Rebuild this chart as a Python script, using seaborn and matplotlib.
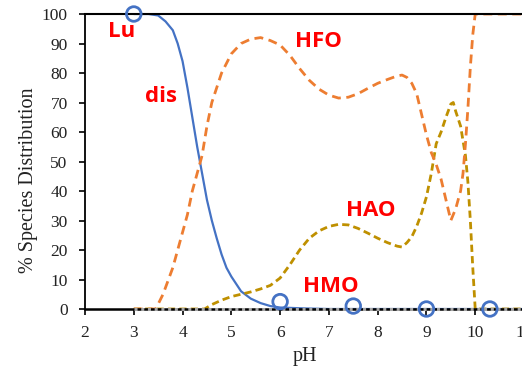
import matplotlib
matplotlib.use("Agg")
import matplotlib.pyplot as plt
import seaborn as sns
import pandas as pd

# Lu dissolved (solid blue)
dis_ph = [3.0, 3.3, 3.5, 3.65, 3.8, 3.9, 4.0, 4.1, 4.2, 4.3, 4.4, 4.5, 4.6, 4.7, 4.8,
          4.9, 5.0, 5.2, 5.4, 5.6, 5.8, 6.0, 6.5, 7.0, 11.0]
dis_val = [100, 100, 99.5, 97.5, 94.5, 90, 84, 75, 65, 55, 46, 37, 30, 24, 18.5,
           14, 11, 6, 3.5, 2, 1, 0.5, 0.2, 0, 0]

# Lu sorbed on HFO (orange dashed)
hfo_ph = [3.0, 3.45, 3.6, 3.8, 4.0, 4.1, 4.2, 4.3, 4.4, 4.5, 4.6, 4.8, 5.0, 5.2, 5.4,
          5.6, 5.8, 6.0, 6.2, 6.4, 6.6, 6.8, 7.0, 7.2, 7.4, 7.6, 7.8, 8.0, 8.2, 8.4,
          8.5, 8.6, 8.7, 8.8, 8.9, 9.0, 9.1, 9.2, 9.3, 9.4, 9.5, 9.6, 9.7, 9.75, 9.8,
          9.85, 9.9, 9.95, 10.0, 11.0]
hfo_val = [0, 0, 5, 14, 26, 32, 40, 46, 52, 62, 70, 80, 86.5, 90, 91.5,
           92, 91, 89.5, 86, 81.5, 77.5, 74.5, 72.5, 71.5, 71.8, 73, 74.8, 76.5, 77.8, 79,
           79.3, 78.5, 76.5, 73, 66, 59, 53, 49, 44, 37, 30, 34, 40, 46, 56,
           68, 82, 93, 100, 100]

# Lu sorbed on HAO (gold dashed)
hao_ph = [3.0, 4.45, 4.6, 4.8, 5.0, 5.2, 5.4, 5.6, 5.8, 6.0, 6.2, 6.4, 6.6, 6.8, 7.0,
          7.2, 7.4, 7.6, 7.8, 8.0, 8.2, 8.4, 8.5, 8.6, 8.7, 8.8, 8.9, 9.0, 9.1, 9.2,
          9.3, 9.4, 9.5, 9.55, 9.6, 9.7, 9.8, 9.85, 9.9, 9.95, 10.0, 11.0]
hao_val = [0, 0, 1.5, 3, 4.2, 5, 5.8, 6.8, 8, 10.5, 15, 20, 24, 26.5, 28,
           28.7, 28.5, 27.3, 25.7, 24, 22.5, 21.3, 21, 22.5, 24.5, 28, 32.5, 38, 46, 56,
           60, 65, 69.5, 70, 67, 62, 52, 43, 30, 14, 0, 0]

# Lu sorbed on HMO (gray dotted)
hmo_ph = [3.0, 11.0]
hmo_val = [0, 0]

# Measured dissolved Lu (open circles)
obs_ph = [3.0, 6.0, 7.5, 9.0, 10.3]
obs_val = [100, 2.5, 1, 0, 0]

xticks = [2, 3, 4, 5, 6, 7, 8, 9, 10, 11]
yticks = [0, 10, 20, 30, 40, 50, 60, 70, 80, 90, 100]

sns.set_theme(style="ticks")
plt.rcParams["font.family"] = ["Liberation Serif", "DejaVu Serif"]

fig = plt.figure(figsize=(5.22, 3.72), dpi=100)
ax = fig.add_axes([85 / 522, 63 / 372, 439 / 522, 295 / 372])

df_hmo = pd.DataFrame({"pH": hmo_ph, "v": hmo_val})
df_dis = pd.DataFrame({"pH": dis_ph, "v": dis_val})
df_hfo = pd.DataFrame({"pH": hfo_ph, "v": hfo_val})
df_hao = pd.DataFrame({"pH": hao_ph, "v": hao_val})
df_obs = pd.DataFrame({"pH": obs_ph, "v": obs_val})

sns.lineplot(data=df_dis, x="pH", y="v", ax=ax, color="#4472C4", linewidth=1.6,
             estimator=None, sort=False)
sns.lineplot(data=df_hao, x="pH", y="v", ax=ax, color="#BF9000", linewidth=2.0,
             estimator=None, sort=False)
ax.lines[-1].set_dashes((2.6, 1.5))
sns.lineplot(data=df_hfo, x="pH", y="v", ax=ax, color="#ED7D31", linewidth=2.0,
             estimator=None, sort=False)
ax.lines[-1].set_dashes((3.2, 2.0))
sns.lineplot(data=df_hmo, x="pH", y="v", ax=ax, color="#A5A5A5", linewidth=2.2,
             estimator=None, sort=False)
ax.lines[-1].set_dashes((1, 1.2))
ax.lines[-1].set_clip_on(False)
ax.lines[-1].set_zorder(5)

sns.scatterplot(data=df_obs, x="pH", y="v", ax=ax, s=110, facecolor="none",
                edgecolor="#4472C4", linewidth=2.0, zorder=6, clip_on=False)

ax.set_xlim(2, 11)
ax.set_ylim(0, 100)
ax.set_xticks(xticks)
ax.set_yticks(yticks)
ax.tick_params(axis="both", direction="out", length=4.5, width=1.2, colors="black",
               labelsize=12.5)
ax.tick_params(axis="x", pad=7)
ax.tick_params(axis="y", pad=8)
for lab in ax.get_xticklabels() + ax.get_yticklabels():
    lab.set_color("#222222")

for side in ["left", "bottom", "top", "right"]:
    ax.spines[side].set_color("black")
ax.spines["left"].set_linewidth(1.3)
ax.spines["top"].set_linewidth(1.5)
ax.spines["bottom"].set_linewidth(1.8)
ax.spines["right"].set_visible(False)

ax.set_xlabel("pH", fontsize=14.5, color="#222222", labelpad=4)
ax.set_ylabel("% Species Distribution", fontsize=14.5, color="#222222",
              va="center")
ax.yaxis.set_label_coords(-0.128, 0.437)

lab_font = dict(color="#FF0000", fontweight="bold", fontsize=16,
                family=["Open Sans", "DejaVu Sans"], ha="center", va="center")
ax.text(2.76, 94, "Lu", **lab_font)
ax.text(3.56, 72, "dis", **lab_font)
ax.text(6.78, 90.8, "HFO", **lab_font)
ax.text(7.85, 33.3, "HAO", **lab_font)
ax.text(7.03, 7.5, "HMO", **lab_font)

fig.savefig("out.png", dpi=100)
